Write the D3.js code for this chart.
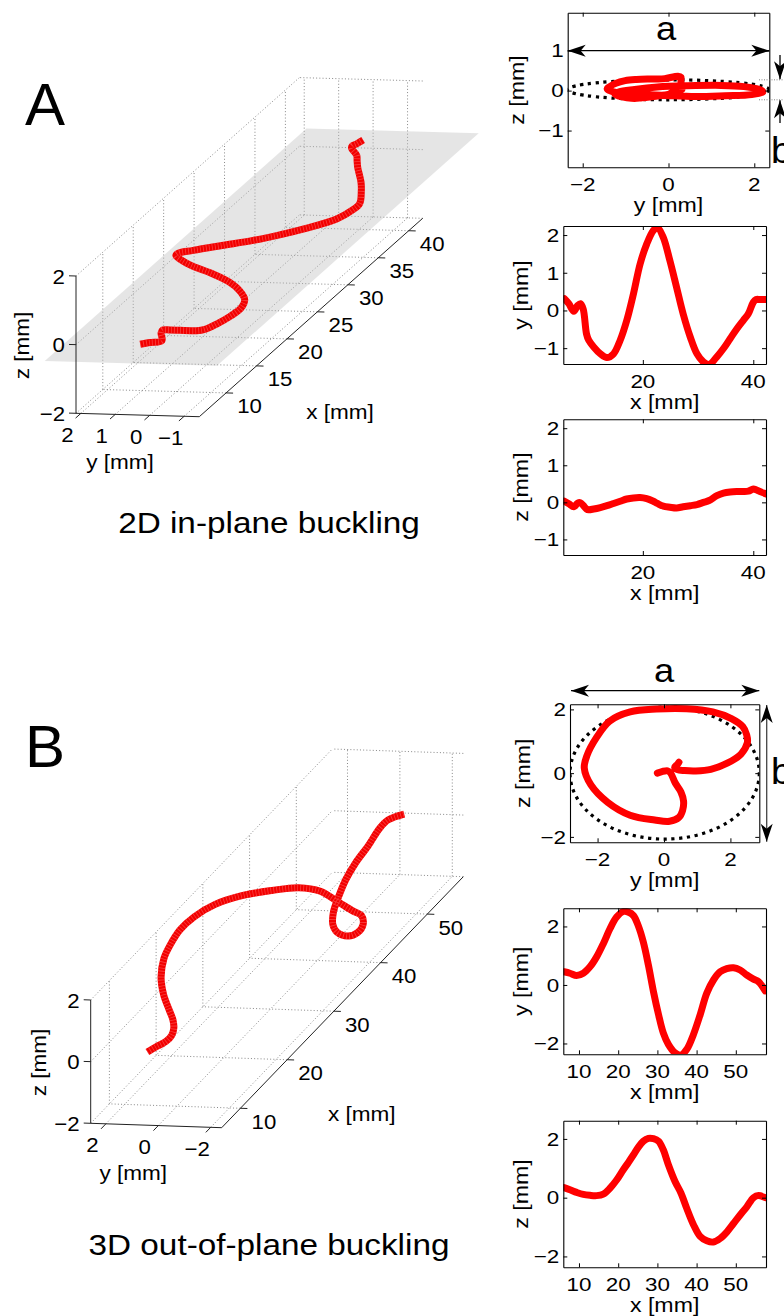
<!DOCTYPE html>
<html>
<head>
<meta charset="utf-8">
<script src="https://cdn.jsdelivr.net/npm/d3@7"></script>
<style>
body { margin: 0; background: #fff; }
svg text { font-family: "Liberation Sans", Arial, Helvetica, sans-serif; fill: #000; }
</style>
</head>
<body>
<svg id="fig" width="784" height="1316"></svg>
<script>
'use strict'

// ---- data ----
// A: 2D in-plane buckling, centreline of the rod
const xA = [5.8, 6.6, 7.5, 8.2, 8.7, 9.2, 9.8, 10.2, 11.1, 12.3, 13.5, 14.7, 15.9, 17.1, 18.3, 19.5, 20.7, 21.9, 22.65, 23.7,
    24.9, 26.1, 27.3, 28.6, 29.8, 31.0, 32.0, 33.4, 34.6, 35.8, 37.0, 38.2, 39.1, 40.0, 40.5, 41.2, 42.3];
const yA = [0.31, 0.18, -0.02, 0.13, 0.18, 0.04, -0.62, -0.79, -0.97, -1.15, -1.25, -1.15, -0.79, -0.26, 0.44, 1.23, 1.76, 2.12, 2.2, 1.94,
    1.32, 0.62, -0.09, -0.71, -1.15, -1.37, -1.43, -1.23, -1.01, -0.75, -0.49, -0.26, -0.09, 0.22, 0.29, 0.29, 0.29];
const zA = [0.03, -0.04, -0.12, -0.02, -0.01, -0.08, -0.18, -0.2, -0.18, -0.14, -0.09, -0.03, 0.03, 0.09, 0.12, 0.13, 0.1, 0.03, -0.03, -0.1,
    -0.13, -0.15, -0.12, -0.09, -0.06, 0.0, 0.05, 0.18, 0.25, 0.28, 0.29, 0.29, 0.3, 0.36, 0.34, 0.29, 0.23];

// B: 3D out-of-plane buckling
const xB = [6.2, 7.7, 9.4, 11.1, 12.8, 14.5, 16.2, 17.9, 19.6, 21.3, 22.6, 23.9, 25.1, 26.4, 27.7, 29.0, 30.3, 31.5, 32.8, 34.5,
    36.0, 37.5, 39.2, 40.9, 42.6, 44.3, 46.0, 47.7, 49.4, 51.1, 52.8, 54.5, 55.8, 57.5];
const yB = [0.45, 0.40, 0.32, 0.40, 0.62, 0.96, 1.41, 1.92, 2.32, 2.51, 2.49, 2.37, 2.03, 1.47, 0.68, -0.23, -1.02, -1.64, -2.03, -2.32,
    -2.4, -2.2, -1.69, -1.02, -0.28, 0.17, 0.45, 0.56, 0.59, 0.51, 0.34, 0.20, 0.11, -0.2];
const zB = [0.34, 0.27, 0.18, 0.11, 0.08, 0.07, 0.12, 0.32, 0.6, 0.95, 1.2, 1.46, 1.71, 1.92, 2.02, 2.01, 1.92, 1.63, 1.12, 0.55,
    0.16, -0.37, -0.92, -1.32, -1.47, -1.51, -1.39, -1.17, -0.88, -0.59, -0.31, 0.0, 0.07, 0.0];

// fitted ellipses in the y-z view: [centre y, centre z, semi a, semi b]
const ellipseA = [0.0, 0.02, 2.35, 0.25];
const ellipseB = [0.02, 0.0, 2.85, 2.07];

// buckling plane of A (z = 0): x range, y range
const planeAx = [2.5, 45.5];
const planeAy = [-2.5, 2.5];

// axis limits
const xlim3A = [5.6, 42.3], ylim3A = [-1.44, 2.14], zlim3 = [-2, 2];
const xlim3B = [6.0, 57.7], ylim3B = [-2.42, 2.58];
const xlimA = [5.6, 42.3], vlimA = [-1.42, 2.24];
const yzA_ylim = [-2.35, 2.35], yzA_zlim = [-1.92, 1.95];
const xlimB = [6.0, 57.7], vlimB = [-2.37, 2.62];
const yzB_ylim = [-2.83, 2.87], yzB_zlim = [-2.17, 2.16];

// tick values
const xTicks3A = [10, 15, 20, 25, 30, 35, 40];
const yTicks3A = [2, 1, 0, -1];
const xTicks3B = [10, 20, 30, 40, 50];
const yTicks3B = [2, 0, -2];
const zTicks3 = [-2, 0, 2];
const xTicksA = [20, 40];
const vTicksA = [-1, 0, 1, 2];
const yzA_yTicks = [-2, 0, 2];
const yzA_zTicks = [-1, 0, 1];
const xTicksB = [10, 20, 30, 40, 50];
const vTicksB = [-2, 0, 2];

const RED = '#ff0000';
const fmt = d => d < 0 ? '\u2212' + Math.abs(d) : String(d);

const svg = d3.select('#fig');
const defs = svg.append('defs');

defs.append('marker')
    .attr('id', 'ah')
    .attr('viewBox', '-20 -8 22 16')
    .attr('refX', 0).attr('refY', 0)
    .attr('markerWidth', 22).attr('markerHeight', 16)
    .attr('markerUnits', 'userSpaceOnUse')
    .attr('orient', 'auto-start-reverse')
    .append('path')
    .attr('d', 'M0,0 L-18,-6 L-13,0 L-18,6 Z')
    .attr('fill', '#000');

// text helper, MATLAB text in the figure is a bit wide, so stretch it
function txt(g, x, y, s, o) {
    let tr = `translate(${x},${y})`;
    if (o.rot) tr += ` rotate(${o.rot})`;
    tr += ` scale(${o.sx || 1},1)`;
    const t = g.append('text')
        .attr('transform', tr)
        .attr('text-anchor', o.anchor || 'middle')
        .style('font-size', o.size + 'px')
        .text(s);
    if (o.dy) t.attr('dy', o.dy);
    return t;
}

let clipId = 0;

////////////////////////////////////////////
// 2D projections

function axes2d(p) {
    const g = svg.append('g');
    const sx = d3.scaleLinear().domain(p.xlim).range([p.box.l, p.box.r]);
    const sy = d3.scaleLinear().domain(p.ylim).range([p.box.b, p.box.t]);

    const id = 'clip' + (clipId++);
    defs.append('clipPath').attr('id', id)
        .append('rect')
        .attr('x', p.box.l).attr('y', p.box.t)
        .attr('width', p.box.r - p.box.l).attr('height', p.box.b - p.box.t);

    const plot = g.append('g').attr('clip-path', `url(#${id})`);

    if (p.ellipse) {
        const e = p.ellipse;
        plot.append('ellipse')
            .attr('cx', sx(e[0])).attr('cy', sy(e[1]))
            .attr('rx', sx(e[0] + e[2]) - sx(e[0]))
            .attr('ry', sy(e[1]) - sy(e[1] + e[3]))
            .attr('fill', 'none')
            .attr('stroke', '#000')
            .attr('stroke-width', 3.2)
            .attr('stroke-dasharray', '3.2 4.6');
    }

    const line = d3.line()
        .x(i => sx(p.hs[i]))
        .y(i => sy(p.vs[i]))
        .curve(d3.curveCatmullRom.alpha(0.5));

    plot.append('path')
        .attr('d', line(d3.range(p.hs.length)))
        .attr('fill', 'none')
        .attr('stroke', RED)
        .attr('stroke-width', 7)
        .attr('stroke-linecap', 'round')
        .attr('stroke-linejoin', 'round');

    // box and inward ticks on all four sides
    const tick = 4;
    [[d3.axisBottom(sx).tickValues(p.xticks), `translate(0,${p.box.b})`],
     [d3.axisTop(sx).tickValues(p.xticks), `translate(0,${p.box.t})`],
     [d3.axisLeft(sy).tickValues(p.yticks), `translate(${p.box.l},0)`],
     [d3.axisRight(sy).tickValues(p.yticks), `translate(${p.box.r},0)`]].forEach(([ax, tr]) => {
        const a = g.append('g').attr('transform', tr)
            .call(ax.tickSizeInner(-tick).tickSizeOuter(0).tickFormat(''));
        a.select('.domain').attr('stroke', '#000').attr('stroke-width', 1.1);
        a.selectAll('.tick line').attr('stroke', '#000');
    });

    p.xticks.forEach(t => txt(g, sx(t), p.box.b + 24, fmt(t), { size: 19, sx: 1.18 }));
    p.yticks.forEach(t => txt(g, p.box.l - 4, sy(t) + 6.8, fmt(t), { size: 19, sx: 1.18, anchor: 'end' }));

    txt(g, (p.box.l + p.box.r) / 2, p.box.b + 44.5, p.xlab, { size: 20.5, sx: 1.13 });
    txt(g, p.ylabX, (p.box.t + p.box.b) / 2, p.ylab, { size: 20.5, sx: 1.13, rot: -90, dy: '0.26em' });

    return { g, sx, sy };
}

////////////////////////////////////////////
// 3D views

function axes3d(p) {
    const g = svg.append('g');
    const fx = d3.scaleLinear().domain(p.xlim).range([0, 1]);
    const fy = d3.scaleLinear().domain(p.ylim).range([0, 1]);
    const fz = d3.scaleLinear().domain(p.zlim).range([0, 1]);
    const P = (x, y, z) => [
        p.P0[0] + fx(x) * p.Ex[0] + fy(y) * p.Ey[0] + fz(z) * p.Ez[0],
        p.P0[1] + fx(x) * p.Ex[1] + fy(y) * p.Ey[1] + fz(z) * p.Ez[1]
    ];
    const [x0, x1] = p.xlim, [y0, y1] = p.ylim, [z0, z1] = p.zlim;

    const seg = (a, b) => g.append('line')
        .attr('x1', a[0]).attr('y1', a[1]).attr('x2', b[0]).attr('y2', b[1]);

    // dotted grid on floor, left wall and back wall
    const grid = [];
    p.xticks.forEach(t => {
        grid.push([P(t, y0, z0), P(t, y1, z0)]);
        grid.push([P(t, y1, z0), P(t, y1, z1)]);
    });
    p.yticks.forEach(t => {
        grid.push([P(x0, t, z0), P(x1, t, z0)]);
        grid.push([P(x1, t, z0), P(x1, t, z1)]);
    });
    p.zticks.forEach(t => {
        grid.push([P(x0, y1, t), P(x1, y1, t)]);
        grid.push([P(x1, y0, t), P(x1, y1, t)]);
    });
    grid.forEach(([a, b]) => seg(a, b)
        .attr('stroke', '#7a7a7a')
        .attr('stroke-width', 0.9)
        .attr('stroke-dasharray', '1 2.2'));

    if (p.plane) {
        const [px, py] = p.plane;
        g.append('polygon')
            .attr('points', [P(px[0], py[0], 0), P(px[1], py[0], 0), P(px[1], py[1], 0), P(px[0], py[1], 0)]
                .map(q => q.join(',')).join(' '))
            .attr('fill', '#bdbdbd')
            .attr('fill-opacity', 0.4);
    }

    // axis lines
    const axc = '#222';
    [[P(x0, y1, z0), P(x0, y1, z1)], [P(x0, y0, z0), P(x0, y1, z0)], [P(x0, y0, z0), P(x1, y0, z0)]]
        .forEach(([a, b]) => seg(a, b).attr('stroke', axc).attr('stroke-width', 1));

    const unit = v => { const n = Math.hypot(v[0], v[1]); return [v[0] / n, v[1] / n]; };
    const uy = unit(p.Ey), ux = unit(p.Ex);
    const tl = 7;

    p.zticks.forEach(t => {
        const a = P(x0, y1, t);
        seg(a, [a[0] + uy[0] * tl, a[1] + uy[1] * tl]).attr('stroke', axc);
        txt(g, a[0] - 11, a[1] + 7.5, fmt(t), { size: 21, sx: 1.06, anchor: 'end' });
    });
    p.yticks.forEach(t => {
        const a = P(x0, t, z0);
        seg(a, [a[0] - ux[0] * tl, a[1] - ux[1] * tl]).attr('stroke', axc);
        txt(g, a[0] - 13.5, a[1] + 21 + 7.5, fmt(t), { size: 21, sx: 1.06 });
    });
    p.xticks.forEach(t => {
        const a = P(t, y0, z0);
        seg(a, [a[0] - uy[0] * tl, a[1] - uy[1] * tl]).attr('stroke', axc);
        txt(g, a[0] + 23.5, a[1] + 13 + 7.5, fmt(t), { size: 21, sx: 1.06 });
    });

    // curve: dense square markers in the original, drawn as a hatched thick line
    const pts = d3.range(p.xs.length).map(i => P(p.xs[i], p.ys[i], p.zs[i]));
    const line = d3.line().curve(d3.curveCatmullRom.alpha(0.5));
    g.append('path').attr('d', line(pts))
        .attr('fill', 'none').attr('stroke', '#f20000').attr('stroke-width', 7)
        .attr('stroke-linejoin', 'round');
    g.append('path').attr('d', line(pts))
        .attr('fill', 'none').attr('stroke', '#ff7070').attr('stroke-width', 7)
        .attr('stroke-opacity', 0.55)
        .attr('stroke-dasharray', '0.8 2.2');

    const L = p.labels;
    txt(g, L.z[0], L.z[1], 'z [mm]', { size: 20.5, sx: 1.1, rot: -90, dy: '0.26em' });
    txt(g, L.y[0], L.y[1] + 5.3, 'y [mm]', { size: 20.5, sx: 1.1 });
    txt(g, L.x[0], L.x[1] + 5.3, 'x [mm]', { size: 20.5, sx: 1.1 });
    return g;
}

function arrow(x1, y1, x2, y2, both, color) {
    const l = svg.append('line')
        .attr('x1', x1).attr('y1', y1).attr('x2', x2).attr('y2', y2)
        .attr('stroke', color || '#000').attr('stroke-width', 1.3)
        .attr('marker-end', 'url(#ah)');
    if (both) l.attr('marker-start', 'url(#ah)');
    return l;
}

////////////////////////////////////////////
// Panel A

txt(svg, 25, 125, 'A', { size: 60, anchor: 'start' });

axes3d({
    P0: [199.3, 416.7], Ex: [223.4, -198.4], Ey: [-123.3, -3.4], Ez: [0, -137.3],
    xlim: xlim3A, ylim: ylim3A, zlim: zlim3,
    xticks: xTicks3A, yticks: yTicks3A, zticks: zTicks3,
    xs: xA, ys: yA, zs: zA,
    plane: [planeAx, planeAy],
    labels: { z: [24, 345.5], y: [120, 463.3], x: [340, 413.3] }
});

txt(svg, 269, 533, '2D in-plane buckling', { size: 30, sx: 1.11 });

const yzA = axes2d({
    box: { l: 567.7, r: 769.3, t: 12.7, b: 167.3 },
    xlim: yzA_ylim, ylim: yzA_zlim, xticks: yzA_yTicks, yticks: yzA_zTicks,
    hs: yA, vs: zA, ellipse: ellipseA,
    xlab: 'y [mm]', ylab: 'z [mm]', ylabX: 519
});

axes2d({
    box: { l: 563.3, r: 766, t: 226, b: 364 },
    xlim: xlimA, ylim: vlimA, xticks: xTicksA, yticks: vTicksA,
    hs: xA, vs: yA,
    xlab: 'x [mm]', ylab: 'y [mm]', ylabX: 522.5
});

axes2d({
    box: { l: 563.3, r: 766, t: 419.3, b: 555 },
    xlim: xlimA, ylim: vlimA, xticks: xTicksA, yticks: vTicksA,
    hs: xA, vs: zA,
    xlab: 'x [mm]', ylab: 'z [mm]', ylabX: 522.5
});

// a / b annotations for A
arrow(567.7, 50.7, 769.3, 50.7, true);
txt(svg, 666, 40, 'a', { size: 33, sx: 1.1 });
{
    const zt = yzA.sy(ellipseA[1] + ellipseA[3]);
    const zb = yzA.sy(ellipseA[1] - ellipseA[3]);
    [zt, zb].forEach(v => svg.append('line')
        .attr('x1', 759).attr('x2', 784).attr('y1', v).attr('y2', v)
        .attr('stroke', '#666').attr('stroke-width', 0.8).attr('stroke-dasharray', '1 1.5'));
    arrow(780, 55, 780, zt - 0.5);
    arrow(780, 123, 780, zb + 0.5);
}
txt(svg, 771, 163, 'b', { size: 36, sx: 1.05, anchor: 'start' });

////////////////////////////////////////////
// Panel B

txt(svg, 25, 766.7, 'B', { size: 60, anchor: 'start' });

axes3d({
    P0: [221.7, 1127.7], Ex: [241.6, -251], Ey: [-131, -4.4], Ez: [0, -123.3],
    xlim: xlim3B, ylim: ylim3B, zlim: zlim3,
    xticks: xTicks3B, yticks: yTicks3B, zticks: zTicks3,
    xs: xB, ys: yB, zs: zB,
    labels: { z: [40.5, 1062.5], y: [133.3, 1174.7], x: [361.7, 1115.3] }
});

txt(svg, 269, 1255, '3D out-of-plane buckling', { size: 30, sx: 1.11 });

axes2d({
    box: { l: 570, r: 759.3, t: 704.3, b: 842.3 },
    xlim: yzB_ylim, ylim: yzB_zlim, xticks: vTicksB, yticks: vTicksB,
    hs: yB, vs: zB, ellipse: ellipseB,
    xlab: 'y [mm]', ylab: 'z [mm]', ylabX: 525
});

axes2d({
    box: { l: 563.3, r: 766, t: 908.3, b: 1054.3 },
    xlim: xlimB, ylim: vlimB, xticks: xTicksB, yticks: vTicksB,
    hs: xB, vs: yB,
    xlab: 'x [mm]', ylab: 'y [mm]', ylabX: 522.5
});

axes2d({
    box: { l: 563.3, r: 766, t: 1120.7, b: 1267.3 },
    xlim: xlimB, ylim: vlimB, xticks: xTicksB, yticks: vTicksB,
    hs: xB, vs: zB,
    xlab: 'x [mm]', ylab: 'z [mm]', ylabX: 522.5
});

// a / b annotations for B
arrow(571, 690.7, 759.3, 690.7, true);
txt(svg, 664, 682, 'a', { size: 33, sx: 1.1 });
arrow(766.7, 705, 766.7, 841.7, true, '#444');
txt(svg, 771, 784, 'b', { size: 36, sx: 1.05, anchor: 'start' });
</script>
</body>
</html>
